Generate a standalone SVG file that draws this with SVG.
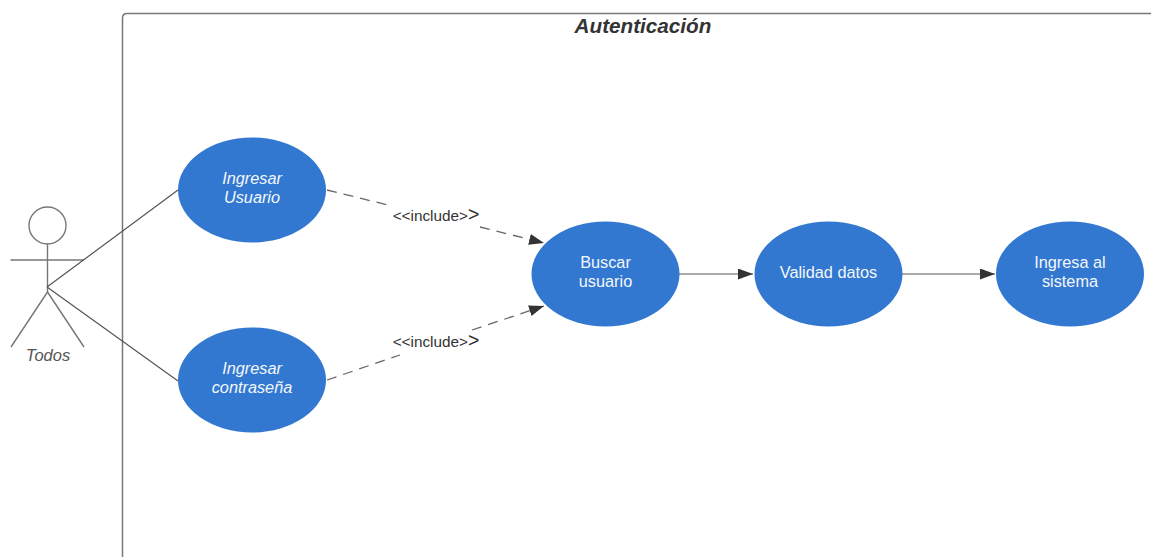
<svg xmlns="http://www.w3.org/2000/svg" width="1151" height="557" viewBox="0 0 1151 557">
<style>
text{font-family:"Liberation Sans",Arial,sans-serif;text-anchor:middle}
.u{fill:#3278d0;stroke:none}
.ut{fill:#f4f7fc;font-size:16.300px}
.i{font-style:italic}
.ln{fill:none;stroke:#555;stroke-width:1.2}
.act{fill:none;stroke:#777;stroke-width:1.4}
.d{fill:none;stroke:#666;stroke-width:1.3;stroke-dasharray:10 7}
.l{fill:#333;font-size:15.300px}
.big{font-size:19.500px}
</style>
<defs>
<marker id="a" markerUnits="userSpaceOnUse" markerWidth="16" markerHeight="12" refX="15" refY="5.500" orient="auto"><path d="M0 0L15 5.500L0 11Z" fill="#333"/></marker>
</defs>
<g id="boundary">
<path d="M1151 13.500H127Q122.500 13.500 122.500 18V557" fill="none" stroke="#777" stroke-width="1.500"/>
<text x="643" y="33" font-size="20.700" font-weight="bold" class="i" fill="#333">Autenticación</text>
</g>
<g id="actor-todos">
<circle cx="47.500" cy="225.500" r="18.500" class="act"/>
<path d="M47.500 243.500V292M10.500 260H84M47.500 292L11 347M47.500 292L84 347" class="act"/>
<text x="48" y="361" font-size="16.500" class="i" fill="#555">Todos</text>
</g>
<g id="connectors">
<path d="M47 287L178 190M47 287L178 381" class="ln"/>
<path d="M679 274H753" class="ln" marker-end="url(#a)"/>
<path d="M902 274H995" class="ln" marker-end="url(#a)"/>
<path d="M327 190L392 206" class="d"/>
<path d="M480 227L544 243" class="d" marker-end="url(#a)"/>
<path d="M327 380L400 355" class="d"/>
<path d="M472 330L544 306" class="d" marker-end="url(#a)"/>
<text x="436" y="220.500" class="l">&lt;&lt;include&gt;<tspan class="big">&gt;</tspan></text>
<text x="436" y="346.500" class="l">&lt;&lt;include&gt;<tspan class="big">&gt;</tspan></text>
</g>
<g id="uc-ingresar-usuario">
<ellipse cx="252" cy="190" rx="74" ry="52.500" class="u"/>
<text x="252" y="184" class="ut i">Ingresar</text>
<text x="252" y="203" class="ut i">Usuario</text>
</g>
<g id="uc-ingresar-contrasena">
<ellipse cx="252" cy="380" rx="74" ry="52.500" class="u"/>
<text x="252" y="374" class="ut i">Ingresar</text>
<text x="252" y="393" class="ut i">contraseña</text>
</g>
<g id="uc-buscar-usuario">
<ellipse cx="605.500" cy="274" rx="74" ry="52.500" class="u"/>
<text x="605.500" y="268" class="ut">Buscar</text>
<text x="605.500" y="287" class="ut">usuario</text>
</g>
<g id="uc-validad-datos">
<ellipse cx="828.500" cy="274" rx="74" ry="52.500" class="u"/>
<text x="828.500" y="277.500" class="ut">Validad datos</text>
</g>
<g id="uc-ingresa-sistema">
<ellipse cx="1070" cy="274" rx="74" ry="52.500" class="u"/>
<text x="1070" y="268" class="ut">Ingresa al</text>
<text x="1070" y="287" class="ut">sistema</text>
</g>
</svg>
